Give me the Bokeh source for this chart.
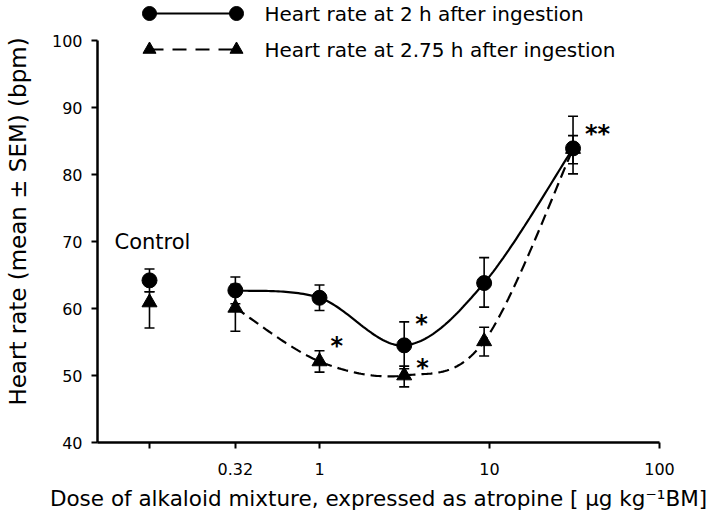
import numpy as np
from bokeh.plotting import figure
from bokeh.models import (Range1d, FixedTicker, ColumnDataSource, Whisker, TeeHead,
                          LinearScale)
from bokeh.core.properties import value
from bokeh.embed import file_html
from bokeh.resources import INLINE

# ---------------- data ----------------
doses = [0.32, 1.0, 3.15, 9.3, 31.0]
control_dose = [0.1]

hr_2h = [62.7, 61.6, 54.5, 63.8, 83.9]
hr_2h_lo = [60.7, 59.7, 51.0, 60.2, 80.1]
hr_2h_hi = [64.7, 63.5, 58.0, 67.6, 88.7]
ctrl_2h = [64.2]
ctrl_2h_lo = [62.5]
ctrl_2h_hi = [65.9]

hr_275h = [60.1, 52.1, 50.0, 55.1, 83.8]
hr_275h_lo = [56.6, 50.5, 48.3, 52.9, 81.6]
hr_275h_hi = [63.6, 53.7, 51.4, 57.2, 85.8]
ctrl_275h = [60.9]
ctrl_275h_lo = [57.1]
ctrl_275h_hi = [62.5]

# significance marks: attached to (dose, value) of a point
star_x = [1.0, 3.15, 3.15, 31.0]
star_y = [52.1, 54.5, 50.0, 83.9]
star_text = ["*", "*", "*", "**"]

x_ticks = [0.1, 0.32, 1, 10, 100]
x_tick_labels = {0.1: "", 0.32: "0.32", 1: "1", 10: "10", 100: "100"}
y_ticks = [40, 50, 60, 70, 80, 90, 100]

legend_labels = ["Heart rate at 2 h after ingestion", "Heart rate at 2.75 h after ingestion"]
x_label = "Dose of alkaloid mixture, expressed as atropine [ \u03bcg kg\u207b\u00b9BM]"
y_label = "Heart rate (mean \u00b1 SEM) (bpm)"

# ---------------- layout ----------------
W, H = 709, 520
ML, MR, MT = 97, W - 659, 0
FH = 442
MB = H - MT - FH
FW = W - ML - MR
PX_DEC = 170.0   # px per decade
PX_UNIT = 6.7    # px per bpm
x_end = 100.0
x_start = 10 ** (np.log10(x_end) - FW / PX_DEC)
y_start = 40.0
y_end = y_start + FH / PX_UNIT

FONT = "DejaVu Sans"


def smooth(xs, ys, n=40):
    X = np.log10(np.asarray(xs, float)) * PX_DEC
    Y = np.asarray(ys, float) * PX_UNIT
    P = np.column_stack([X, Y])
    out = [P[0]]
    m = len(P)
    for i in range(m - 1):
        p0 = P[i - 1] if i > 0 else P[i]
        p1, p2 = P[i], P[i + 1]
        p3 = P[i + 2] if i + 2 < m else P[i + 1]
        c1 = p1 + (p2 - p0) / 6.0
        c2 = p2 - (p3 - p1) / 6.0
        t = np.linspace(0, 1, n)[1:, None]
        seg = ((1 - t) ** 3) * p1 + 3 * ((1 - t) ** 2) * t * c1 + 3 * (1 - t) * t * t * c2 + t ** 3 * p2
        out.extend(seg)
    out = np.array(out)
    return 10 ** (out[:, 0] / PX_DEC), out[:, 1] / PX_UNIT


p = figure(width=W, height=H, x_axis_type="log",
           x_range=Range1d(x_start, x_end), y_range=Range1d(y_start, y_end),
           output_backend="svg", toolbar_location=None,
           min_border_left=ML, min_border_right=MR, min_border_top=MT, min_border_bottom=MB)
p.outline_line_color = None
p.grid.visible = False
p.background_fill_color = "white"

# pixel-like ranges for the legend key
p.extra_x_ranges = {"px": Range1d(0, FW)}
p.extra_x_scales = {"px": LinearScale()}
p.extra_y_ranges = {"px": Range1d(FH, 0)}
p.extra_y_scales = {"px": LinearScale()}

# axes
for ax in (p.xaxis[0], p.yaxis[0]):
    ax.axis_line_width = 2.5
    ax.axis_line_color = "black"
    ax.major_tick_line_width = 2
    ax.major_tick_line_color = "black"
    ax.major_tick_out = 6
    ax.major_tick_in = 0
    ax.minor_tick_out = 0
    ax.minor_tick_in = 0
    ax.major_label_text_font = FONT
    ax.major_label_text_font_size = "16px"
    ax.major_label_text_color = "black"
    ax.axis_label_text_font = FONT
    ax.axis_label_text_font_style = "normal"
    ax.axis_label_text_color = "black"

p.xaxis.ticker = FixedTicker(ticks=x_ticks)
p.xaxis.major_label_overrides = x_tick_labels
p.xaxis.bounds = (x_start, x_end)
p.xaxis.axis_label = x_label
p.xaxis.axis_label_text_font_size = "21.5px"
p.xaxis.major_label_standoff = 14
p.xaxis.axis_label_standoff = 8

p.yaxis.ticker = FixedTicker(ticks=y_ticks)
p.yaxis.bounds = (40, 100)
p.yaxis.axis_label = y_label
p.yaxis.axis_label_text_font_size = "23px"
p.yaxis.major_label_standoff = 9
p.yaxis.axis_label_standoff = 18

# error bars
def add_err(xs, lo, hi):
    src = ColumnDataSource(dict(base=xs, lower=lo, upper=hi))
    w = Whisker(source=src, base="base", lower="lower", upper="upper", dimension="height",
                line_color="black", line_width=1.6,
                upper_head=TeeHead(size=10, line_width=1.6, line_color="black"),
                lower_head=TeeHead(size=10, line_width=1.6, line_color="black"))
    p.add_layout(w)

add_err(doses, hr_2h_lo, hr_2h_hi)
add_err(doses, hr_275h_lo, hr_275h_hi)
add_err(control_dose, ctrl_2h_lo, ctrl_2h_hi)
add_err(control_dose, ctrl_275h_lo, ctrl_275h_hi)

# curves
sx, sy = smooth(doses, hr_2h)
p.line(sx, sy, line_color="black", line_width=2.2)
tx, ty = smooth(doses, hr_275h)
p.line(tx, ty, line_color="black", line_width=2.2, line_dash="11 6")

# markers
p.scatter(doses + control_dose, hr_2h + ctrl_2h, marker="circle", size=15,
          fill_color="black", line_color="black")
p.scatter(doses + control_dose, hr_275h + ctrl_275h, marker="triangle", size=15,
          fill_color="black", line_color="black")

# significance marks
star_dx = [11, 11, 12, 12]
star_dy = [-15, -21, -8, -14]
p.text(x=star_x, y=star_y, text=star_text, x_offset=star_dx, y_offset=star_dy,
       text_font=value(FONT), text_font_size="24px", text_font_style="bold",
       text_align="left", text_baseline="middle", text_color="black")

# Control label
p.text(x=control_dose, y=[70], text=["Control"], x_offset=[3],
       text_font=value(FONT), text_font_size="21px", text_align="center",
       text_baseline="middle", text_color="black")

# legend key (pixel coordinates inside the frame)
LEG_X0, LEG_X1, LEG_TX = 52, 139, 167
LEG_Y = [13, 49]
p.line([LEG_X0, LEG_X1], [LEG_Y[0]] * 2, x_range_name="px", y_range_name="px",
       line_color="black", line_width=2.2)
p.line([LEG_X0, LEG_X1], [LEG_Y[1]] * 2, x_range_name="px", y_range_name="px",
       line_color="black", line_width=2.2, line_dash="14 9")
p.scatter([LEG_X0, LEG_X1], [LEG_Y[0]] * 2, x_range_name="px", y_range_name="px",
          marker="circle", size=14, fill_color="black", line_color="black")
p.scatter([LEG_X0, LEG_X1], [LEG_Y[1]] * 2, x_range_name="px", y_range_name="px",
          marker="triangle", size=13, fill_color="black", line_color="black")
p.text(x=[LEG_TX, LEG_TX], y=LEG_Y, text=legend_labels, x_range_name="px", y_range_name="px",
       text_font=value(FONT), text_font_size="20px", text_align="left",
       text_baseline="middle", text_color="black")

open("out.html", "w").write(file_html(p, INLINE))
